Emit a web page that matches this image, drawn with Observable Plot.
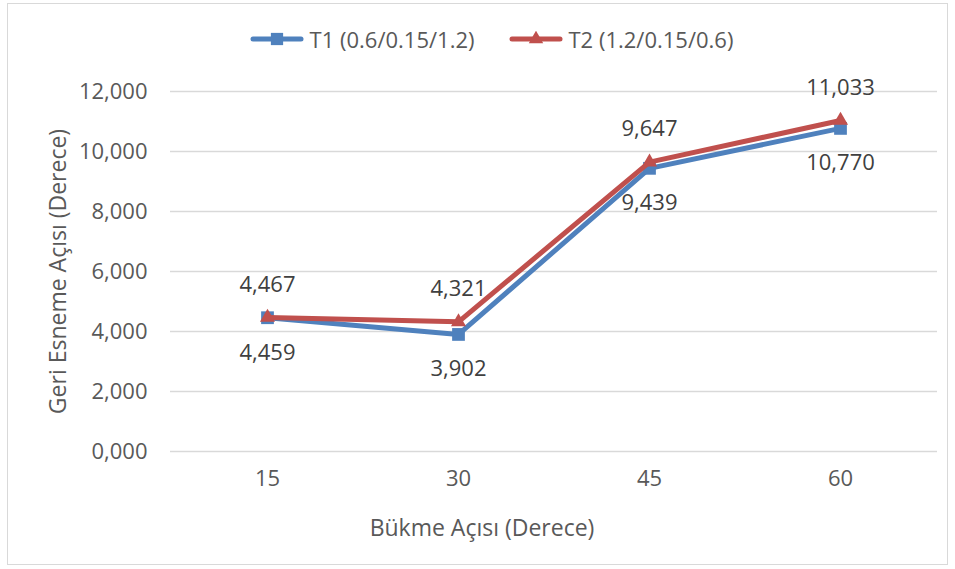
<!DOCTYPE html>
<html>
<head>
<meta charset="utf-8">
<script src="https://cdn.jsdelivr.net/npm/d3@7"></script>
<script src="https://cdn.jsdelivr.net/npm/@observablehq/plot@0.6"></script>
<style>
  html, body { margin: 0; padding: 0; background: #fff; }
  #chart {
    position: absolute; left: 7px; top: 3px;
    width: 939px; height: 560px;
    border: 1px solid #d9d9d9;
    font-family: "Open Sans", sans-serif;
    color: #595959;
  }
  #legend {
    height: 56px; display: flex; justify-content: center; align-items: center;
    font-size: 22px; gap: 34px; padding-left: 28px; padding-top: 14px; box-sizing: border-box;
  }
  .item { display: flex; align-items: center; gap: 6px; }
  svg { display: block; }
</style>
</head>
<body>
<div id="chart"><div id="legend"></div></div>
<script>
const angles = ["15", "30", "45", "60"];
const seriesNames = ["T1 (0.6/0.15/1.2)", "T2 (1.2/0.15/0.6)"];
const t1Values = [4.459, 3.902, 9.439, 10.770];
const t2Values = [4.467, 4.321, 9.647, 11.033];
const yTicks = [0, 2, 4, 6, 8, 10, 12];
const xLabel = "Bükme Açısı (Derece)";
const yLabel = "Geri Esneme Açısı (Derece)";
const colors = ["#4f81bd", "#c0504d"];

const locale = d3.formatLocale({decimal: ",", thousands: ".", grouping: [3], currency: ["", ""]});
const fmt = locale.format(".3f");

const t1 = angles.map((a, i) => ({angle: a, value: t1Values[i]}));
const t2 = angles.map((a, i) => ({angle: a, value: t2Values[i]}));

// Legend
const legend = document.getElementById("legend");
seriesNames.forEach((name, i) => {
  const item = document.createElement("div");
  item.className = "item";
  const ns = "http://www.w3.org/2000/svg";
  const sw = document.createElementNS(ns, "svg");
  sw.setAttribute("width", 54); sw.setAttribute("height", 16);
  const ln = document.createElementNS(ns, "line");
  ln.setAttribute("x1", 3); ln.setAttribute("x2", 51); ln.setAttribute("y1", 8); ln.setAttribute("y2", 8);
  ln.setAttribute("stroke", colors[i]); ln.setAttribute("stroke-width", 5); ln.setAttribute("stroke-linecap", "round");
  sw.appendChild(ln);
  const mk = document.createElementNS(ns, "path");
  mk.setAttribute("d", d3.symbol(i === 0 ? d3.symbolSquare : d3.symbolTriangle, i === 0 ? 150 : 90)());
  mk.setAttribute("transform", "translate(27,8)");
  mk.setAttribute("fill", colors[i]);
  sw.appendChild(mk);
  item.appendChild(sw);
  const tx = document.createElement("span");
  tx.textContent = name;
  item.appendChild(tx);
  legend.appendChild(item);
});

const fs = 22;
const plot = Plot.plot({
  width: 939,
  height: 504,
  marginLeft: 162,
  marginRight: 10,
  marginTop: 31,
  marginBottom: 113,
  style: {fontFamily: "Open Sans, sans-serif", fontSize: fs + "px", color: "#595959", background: "transparent"},
  x: {type: "point", domain: angles, padding: 0.5},
  y: {domain: [0, 12]},
  marks: [
    Plot.ruleY(yTicks, {stroke: "#d9d9d9", strokeWidth: 1.3}),
    Plot.axisY({ticks: yTicks, tickFormat: fmt, tickSize: 0, tickPadding: 23, label: null, fontSize: fs, fill: "#595959"}),
    Plot.axisX({tickSize: 0, tickPadding: 19, label: null, fontSize: fs, fill: "#595959"}),
    Plot.text([yLabel], {frameAnchor: "left", textAnchor: "middle", lineAnchor: "middle", rotate: -90, dx: -112, fontSize: 23, fill: "#595959"}),
    Plot.text([xLabel], {frameAnchor: "bottom", textAnchor: "middle", lineAnchor: "middle", dx: -72, dy: 77, fontSize: 23, fill: "#595959"}),
    Plot.line(t1, {x: "angle", y: "value", stroke: colors[0], strokeWidth: 5}),
    Plot.dot(t1, {x: "angle", y: "value", symbol: "square", fill: colors[0], r: 7.2}),
    Plot.line(t2, {x: "angle", y: "value", stroke: colors[1], strokeWidth: 5}),
    Plot.dot(t2, {x: "angle", y: "value", symbol: "triangle", fill: colors[1], r: 5.6}),
    Plot.text(t1, {x: "angle", y: "value", text: d => fmt(d.value), dy: 35, fontSize: fs, fill: "#404040"}),
    Plot.text(t2, {x: "angle", y: "value", text: d => fmt(d.value), dy: -33, fontSize: fs, fill: "#404040"})
  ]
});
document.getElementById("chart").appendChild(plot);
</script>
</body>
</html>
